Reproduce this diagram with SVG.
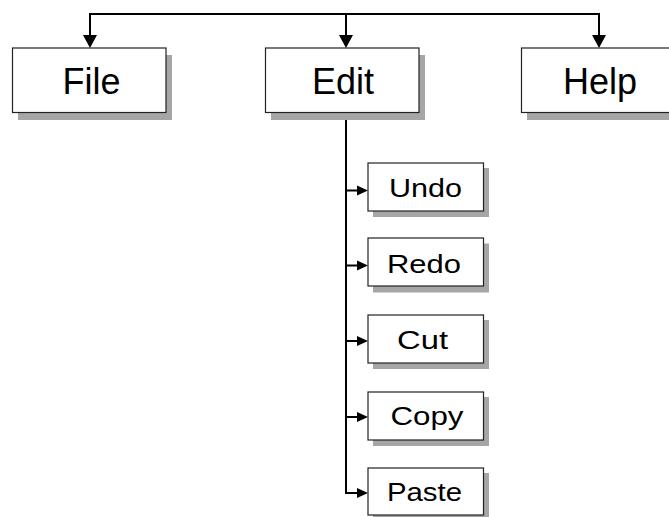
<svg xmlns="http://www.w3.org/2000/svg" width="669" height="517" viewBox="0 0 669 517">
  <style>
    .shadow { fill: #a6a6a6; }
    .box { fill: #ffffff; stroke: #222222; stroke-width: 1.2; }
    .big { font-family: "Liberation Sans", Arial, sans-serif; font-size: 36px; fill: #000; text-anchor: middle; }
    .small { font-family: "Liberation Sans", Arial, sans-serif; font-size: 25px; fill: #000; text-anchor: middle; }
    .wire { fill: none; stroke: #000; stroke-width: 2; }
    .head { fill: #000; }
  </style>
  <defs>
    <path id="headDown" class="head" d="M-7,-13 L7,-13 L0,0 Z"/>
    <path id="headRight" class="head" d="M-11,-5 L0,0 L-11,5 Z"/>
  </defs>

  <!-- connectors -->
  <g id="connectors">
    <path class="wire" d="M90,36 V14 H599 V36"/>
    <path class="wire" d="M346,14 V36"/>
    <path class="wire" d="M346,113 V493 H358"/>
    <path class="wire" d="M346,190.5 H358"/>
    <path class="wire" d="M346,265.5 H358"/>
    <path class="wire" d="M346,341 H358"/>
    <path class="wire" d="M346,417 H358"/>
    <use href="#headDown" x="90" y="48"/>
    <use href="#headDown" x="346" y="48"/>
    <use href="#headDown" x="599" y="48"/>
    <use href="#headRight" x="368" y="190.5"/>
    <use href="#headRight" x="368" y="265.5"/>
    <use href="#headRight" x="368" y="341"/>
    <use href="#headRight" x="368" y="417"/>
    <use href="#headRight" x="368" y="493"/>
  </g>

  <!-- top-level menus -->
  <g id="file">
    <rect class="shadow" x="18" y="55" width="154" height="65"/>
    <rect class="box" x="12.5" y="48" width="153.5" height="64.5"/>
    <text class="big" x="91.5" y="93.5">File</text>
  </g>
  <g id="edit">
    <rect class="shadow" x="271" y="55" width="154" height="65"/>
    <rect class="box" x="265.5" y="48" width="153.5" height="64.5"/>
    <text class="big" x="343" y="93.5">Edit</text>
  </g>
  <g id="help">
    <rect class="shadow" x="527" y="55" width="154" height="65"/>
    <rect class="box" x="521.5" y="48" width="153.5" height="64.5"/>
    <text class="big" x="600" y="93.5">Help</text>
  </g>

  <!-- Edit submenu -->
  <g id="undo">
    <rect class="shadow" x="373" y="168" width="116" height="49"/>
    <rect class="box" x="368" y="163" width="115.5" height="48"/>
    <text class="small" x="425.5" y="196.5" textLength="73" lengthAdjust="spacingAndGlyphs">Undo</text>
  </g>
  <g id="redo">
    <rect class="shadow" x="373" y="243.5" width="116" height="49"/>
    <rect class="box" x="368" y="238" width="115.5" height="48"/>
    <text class="small" x="424" y="272.5" textLength="74" lengthAdjust="spacingAndGlyphs">Redo</text>
  </g>
  <g id="cut">
    <rect class="shadow" x="373" y="320" width="116" height="49"/>
    <rect class="box" x="368" y="315" width="115.5" height="48"/>
    <text class="small" x="422.5" y="348.5" textLength="51" lengthAdjust="spacingAndGlyphs">Cut</text>
  </g>
  <g id="copy">
    <rect class="shadow" x="373" y="397" width="116" height="49"/>
    <rect class="box" x="368" y="392" width="115.5" height="48"/>
    <text class="small" x="427" y="424.5" textLength="73" lengthAdjust="spacingAndGlyphs">Copy</text>
  </g>
  <g id="paste">
    <rect class="shadow" x="373" y="473" width="116" height="49"/>
    <rect class="box" x="368" y="468" width="115.5" height="47"/>
    <text class="small" x="424.5" y="501" textLength="75" lengthAdjust="spacingAndGlyphs">Paste</text>
  </g>
</svg>
